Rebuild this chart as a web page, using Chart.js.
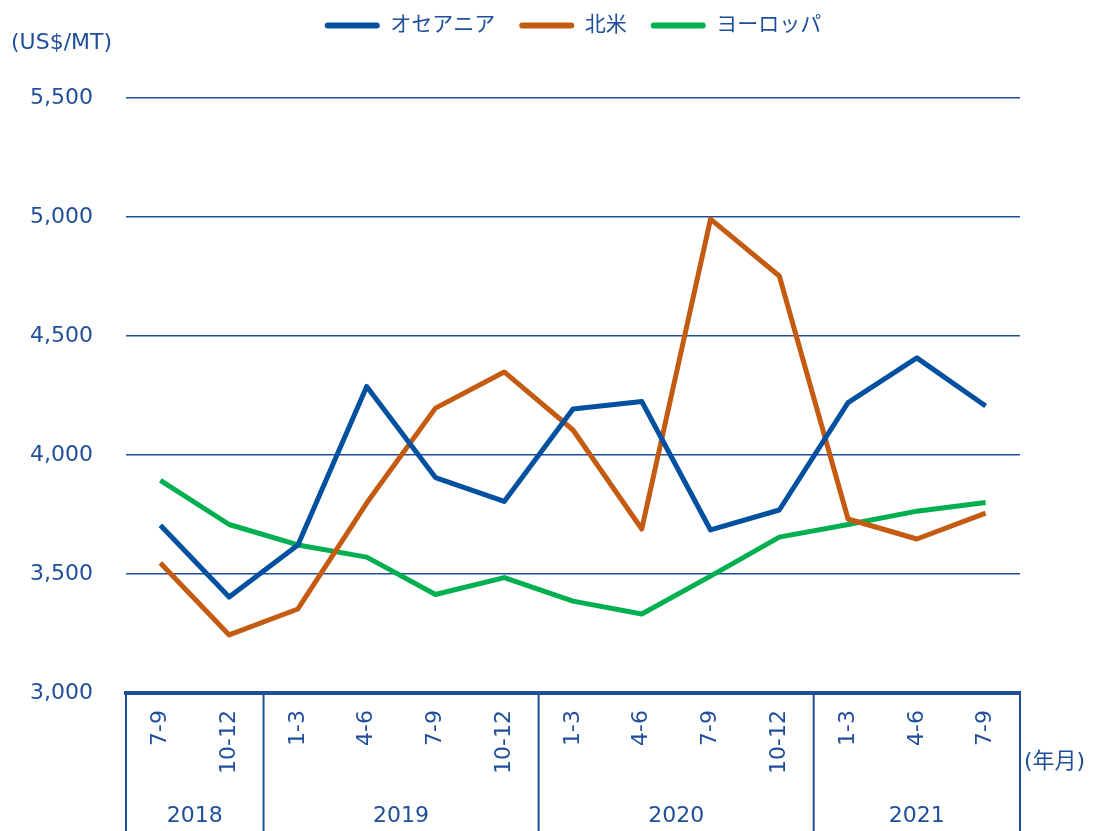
<!DOCTYPE html>
<html>
<head>
<meta charset="utf-8">
<script src="https://cdn.jsdelivr.net/npm/chart.js@4/dist/chart.umd.min.js"></script>
<style>
    html, body { margin: 0; padding: 0; background: #ffffff; }
    #wrap { width: 1099px; height: 831px; }
</style>
</head>
<body>
<div id="wrap"><canvas id="priceChart"></canvas></div>
<script>
// Data
const quarters = ['7-9', '10-12', '1-3', '4-6', '7-9', '10-12', '1-3', '4-6', '7-9', '10-12', '1-3', '4-6', '7-9'];
const years = ['2018', '2019', '2020', '2021'];
const yearSpans = [2, 4, 4, 3];
const oceania = [3705, 3403, 3622, 4288, 3905, 3805, 4193, 4225, 3685, 3769, 4220, 4408, 4206];
const northAmerica = [3546, 3244, 3353, 3798, 4197, 4349, 4105, 3689, 4991, 4752, 3731, 3647, 3756];
const europe = [3893, 3708, 3622, 3571, 3414, 3485, 3386, 3332, 3491, 3655, 3708, 3764, 3800];
const yTicks = [3000, 3500, 4000, 4500, 5000, 5500];

const TEXT_BLUE = '#1F4E9A';
const FONT = '"DejaVu Sans", "Noto Sans CJK JP", sans-serif';

// Extra drawing: unit labels, year groups under the axis
const extrasPlugin = {
    id: 'extras',
    beforeUpdate(chart) {
        const legend = chart.legend;
        if (legend && !legend._patched) {
            const origFit = legend.fit;
            legend.fit = function() {
                origFit.call(this);
                this.height = 98;
            };
            legend._patched = true;
        }
    },
    afterLayout(chart) {
        // center the legend over the plot area, a bit higher
        const legend = chart.legend;
        legend.left = chart.chartArea.left;
        legend.right = chart.chartArea.right;
        legend.top -= 9;
    },
    afterDraw(chart) {
        const ctx = chart.ctx;
        const x = chart.scales.x;
        const area = chart.chartArea;
        const half = (x.getPixelForValue(1) - x.getPixelForValue(0)) / 2;

        ctx.save();
        ctx.fillStyle = TEXT_BLUE;
        ctx.font = '22px ' + FONT;
        ctx.textBaseline = 'middle';
        ctx.textAlign = 'left';
        ctx.fillText('(US$/MT)', 11, 43);
        ctx.fillText('(年月)', 1024, 762);

        // Group separators and year labels
        ctx.strokeStyle = TEXT_BLUE;
        ctx.lineWidth = 2;
        let idx = 0;
        const bottom = chart.height;
        const edges = [x.getPixelForValue(0) - half];
        yearSpans.forEach((span, i) => {
            const start = x.getPixelForValue(idx) - half;
            const end = x.getPixelForValue(idx + span - 1) + half;
            edges.push(end);
            ctx.textAlign = 'center';
            ctx.fillText(years[i], (start + end) / 2, 816);
            idx += span;
        });
        edges.forEach(px => {
            ctx.beginPath();
            ctx.moveTo(px, area.bottom);
            ctx.lineTo(px, bottom);
            ctx.stroke();
        });
        ctx.restore();
    }
};

function makeSet(label, data, color) {
    return {
        label: label,
        data: data,
        borderColor: color,
        backgroundColor: color,
        borderWidth: 5,
        pointRadius: 0,
        tension: 0,
        borderJoinStyle: 'round',
        fill: false
    };
}

const ctx = document.getElementById('priceChart').getContext('2d');
const priceChart = new Chart(ctx, {
    type: 'line',
    data: {
        labels: quarters,
        datasets: [
            makeSet('オセアニア', oceania, '#0250A0'),
            makeSet('北米', northAmerica, '#C55A11'),
            makeSet('ヨーロッパ', europe, '#00B050')
        ]
    },
    options: {
        responsive: true,
        maintainAspectRatio: false,
        animation: false,
        layout: { padding: { left: 0, right: 79, top: 0, bottom: 0 } },
        plugins: {
            tooltip: { enabled: false },
            legend: {
                position: 'top',
                labels: {
                    color: TEXT_BLUE,
                    font: { family: FONT, size: 21 },
                    boxWidth: 55,
                    boxHeight: 6,
                    useBorderRadius: true,
                    borderRadius: 3,
                    padding: 24,
                    generateLabels(chart) {
                        const items = Chart.defaults.plugins.legend.labels.generateLabels(chart);
                        items.forEach(it => { it.lineWidth = 0; });
                        return items;
                    }
                }
            }
        },
        scales: {
            x: {
                offset: true,
                grid: { display: false, drawTicks: false },
                border: { display: true, color: TEXT_BLUE, width: 4 },
                ticks: {
                    color: TEXT_BLUE,
                    font: { family: FONT, size: 22 },
                    autoSkip: false,
                    minRotation: 90,
                    maxRotation: 90,
                    padding: 17
                },
                afterFit(scale) { scale.height = 138; }
            },
            y: {
                min: 3000,
                max: 5500,
                grid: { color: TEXT_BLUE, lineWidth: 1.5, drawTicks: false },
                border: { display: false },
                afterBuildTicks(scale) { scale.ticks = yTicks.map(v => ({ value: v })); },
                ticks: {
                    color: TEXT_BLUE,
                    font: { family: FONT, size: 22 },
                    padding: 33,
                    callback: v => v.toLocaleString('en-US')
                },
                afterFit(scale) { scale.width = 126; }
            }
        }
    },
    plugins: [extrasPlugin]
});
</script>
</body>
</html>
